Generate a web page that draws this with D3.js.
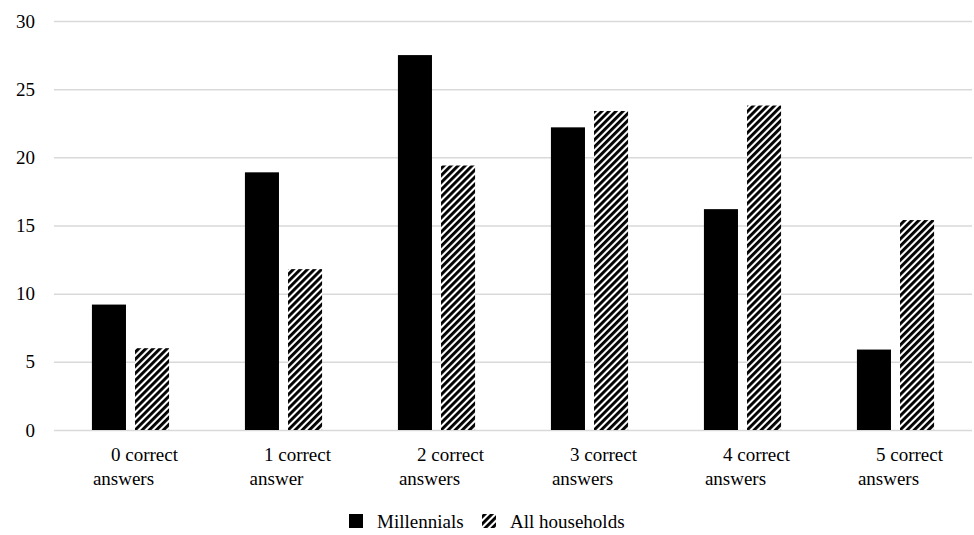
<!DOCTYPE html>
<html>
<head>
<meta charset="utf-8">
<script src="https://cdn.jsdelivr.net/npm/d3@7"></script>
</head>
<body style="margin:0">
<div id="chart"></div>
<script>
// Daten
const categories = ["0 correct answers", "1 correct answer", "2 correct answers", "3 correct answers", "4 correct answers", "5 correct answers"];
const labelLines = [["0 correct", "answers"], ["1 correct", "answer"], ["2 correct", "answers"], ["3 correct", "answers"], ["4 correct", "answers"], ["5 correct", "answers"]];
const seriesNames = ["Millennials", "All households"];
const millennials = [9.2, 18.9, 27.5, 22.2, 16.2, 5.9];
const allHouseholds = [6.0, 11.8, 19.4, 23.4, 23.8, 15.4];
const yTicks = [0, 5, 10, 15, 20, 25, 30];

const width = 974, height = 535;
const margin = { top: 21, right: 2, bottom: 105, left: 54 };
const serif = "Liberation Serif";
const fontSize = 19;

const svg = d3.select("#chart").append("svg")
  .attr("width", width)
  .attr("height", height);

// Schraffur-Muster
const defs = svg.append("defs");
const pat = defs.append("pattern")
  .attr("id", "hatch")
  .attr("patternUnits", "userSpaceOnUse")
  .attr("width", 5)
  .attr("height", 5)
  .attr("patternTransform", "rotate(45)");
pat.append("rect").attr("width", 5).attr("height", 5).attr("fill", "#fff");
pat.append("rect").attr("width", 2.9).attr("height", 5).attr("fill", "#000");

const y = d3.scaleLinear()
  .domain([0, 30])
  .range([height - margin.bottom, margin.top]);

const x0 = d3.scaleBand()
  .domain(categories)
  .range([margin.left, width - margin.right]);

const x1 = d3.scaleBand()
  .domain(seriesNames)
  .range([0, x0.bandwidth()])
  .paddingInner(0.21)
  .paddingOuter(0.88);

// Gitternetz
const yAxis = d3.axisLeft(y)
  .tickValues(yTicks)
  .tickSize(-(width - margin.left - margin.right))
  .tickPadding(19)
  .tickFormat(d3.format("d"));

const gAxis = svg.append("g")
  .attr("transform", `translate(${margin.left},0)`)
  .call(yAxis);
gAxis.select(".domain").remove();
gAxis.selectAll("line").attr("stroke", "#d9d9d9").attr("stroke-width", 1.5);
gAxis.selectAll("text")
  .attr("fill", "#000")
  .attr("font-family", serif)
  .attr("font-size", fontSize);

// Balken
const rows = categories.map((c, i) => ({ cat: c, values: [millennials[i], allHouseholds[i]] }));

const groups = svg.append("g").selectAll("g")
  .data(rows)
  .join("g")
  .attr("transform", d => `translate(${x0(d.cat)},0)`);

groups.selectAll("rect")
  .data(d => d.values.map((v, j) => ({ s: seriesNames[j], v })))
  .join("rect")
  .attr("x", d => x1(d.s))
  .attr("y", d => y(d.v))
  .attr("width", x1.bandwidth())
  .attr("height", d => y(0) - y(d.v))
  .attr("fill", d => d.s === "Millennials" ? "#000" : "url(#hatch)");

// Kategorie-Beschriftungen (zwei Zeilen)
const labelG = svg.append("g");
categories.forEach((c, i) => {
  const cx = x0(c) + x0.bandwidth() / 2;
  labelG.append("text")
    .attr("x", cx + 14).attr("y", 461)
    .attr("text-anchor", "middle")
    .attr("font-family", serif).attr("font-size", fontSize)
    .text(labelLines[i][0]);
  labelG.append("text")
    .attr("x", cx - 7).attr("y", 485)
    .attr("text-anchor", "middle")
    .attr("font-family", serif).attr("font-size", fontSize)
    .text(labelLines[i][1]);
});

// Legende
const legend = svg.append("g");
const legendItems = [
  { name: seriesNames[0], fill: "#000", x: 349 },
  { name: seriesNames[1], fill: "url(#hatch)", x: 482 }
];
legendItems.forEach(it => {
  legend.append("rect")
    .attr("x", it.x).attr("y", 514)
    .attr("width", 14).attr("height", 14)
    .attr("fill", it.fill);
  legend.append("text")
    .attr("x", it.x + 28).attr("y", 528)
    .attr("font-family", serif).attr("font-size", fontSize)
    .text(it.name);
});
</script>
</body>
</html>
